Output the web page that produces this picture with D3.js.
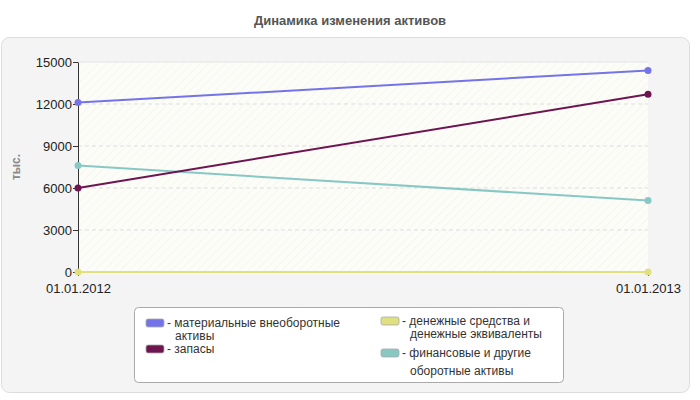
<!DOCTYPE html>
<html lang="ru">
<head>
<meta charset="UTF-8">
<script src="https://d3js.org/d3.v7.min.js"></script>
<style>
  html, body { margin: 0; padding: 0; background: #fff; }
  svg { font-family: "Liberation Sans", Arial, sans-serif; }
</style>
</head>
<body>
<svg width="700" height="400"></svg>
<script>
const dates = ["01.01.2012", "01.01.2013"];
const seriesNames = ["материальные внеоборотные активы", "запасы", "денежные средства и денежные эквиваленты", "финансовые и другие оборотные активы"];
const seriesColors = ["#7474e8", "#6e1550", "#e0e080", "#88c8c4"];
const seriesValues = [
  [12100, 14400],
  [6000, 12700],
  [0, 0],
  [7600, 5100]
];
const yTicks = [0, 3000, 6000, 9000, 12000, 15000];

const svg = d3.select("svg");
const defs = svg.append("defs");
const pat = defs.append("pattern").attr("id", "hatch").attr("width", 6).attr("height", 6)
  .attr("patternUnits", "userSpaceOnUse").attr("patternTransform", "rotate(-45)");
pat.append("rect").attr("width", 6).attr("height", 6).attr("fill", "#fdfdf8");
pat.append("line").attr("x1", 0).attr("y1", 0).attr("x2", 6).attr("y2", 0).attr("stroke", "#eeeeee").attr("stroke-width", 1);

svg.append("text").attr("x", 350).attr("y", 25).attr("text-anchor", "middle")
  .attr("font-size", 13).attr("font-weight", "bold").attr("fill", "#555").text("Динамика изменения активов");

svg.append("rect").attr("x", 1.5).attr("y", 37.5).attr("width", 688).attr("height", 355).attr("rx", 8)
  .attr("fill", "#f4f4f4").attr("stroke", "#dddddd");

const x = d3.scalePoint().domain(dates).range([78, 648]);
const y = d3.scaleLinear().domain([0, 15000]).range([272, 62]);

svg.append("rect").attr("x", 78).attr("y", 62).attr("width", 570).attr("height", 210).attr("fill", "url(#hatch)");

svg.append("g").selectAll("line").data(yTicks.slice(1, -1)).join("line")
  .attr("x1", 78).attr("x2", 648).attr("y1", d => y(d)).attr("y2", d => y(d))
  .attr("stroke", "#dddddd").attr("stroke-dasharray", "4,3");
svg.append("line").attr("x1", 78).attr("x2", 648).attr("y1", y(15000)).attr("y2", y(15000)).attr("stroke", "#e4e4e4");

const yAxis = svg.append("g").attr("transform", "translate(78,0)")
  .call(d3.axisLeft(y).tickValues(yTicks).tickSize(5).tickSizeOuter(0).tickFormat(d3.format("d")));
const xAxis = svg.append("g").attr("transform", "translate(0,272)")
  .call(d3.axisBottom(x).tickSize(4).tickSizeOuter(0));
[yAxis, xAxis].forEach(a => {
  a.select(".domain").attr("stroke", "#333");
  a.selectAll(".tick line").attr("stroke", "#333");
  a.selectAll("text").attr("font-size", 13).attr("fill", "#222").attr("font-family", "Liberation Sans, Arial, sans-serif");
});
yAxis.selectAll("text").attr("dx", "2");
xAxis.selectAll("text").attr("dy", "1.1em");
xAxis.selectAll(".tick text").attr("text-anchor", (d, i) => i === 0 ? "middle" : "middle");

svg.append("text").attr("transform", "translate(20,167) rotate(-90)").attr("text-anchor", "middle")
  .attr("font-size", 12).attr("font-weight", "bold").attr("fill", "#888").text("тыс.");

const line = d3.line().x((d, i) => x(dates[i])).y(d => y(d));
const order = [0, 3, 1, 2];
order.forEach(s => {
  svg.append("path").attr("d", line(seriesValues[s])).attr("fill", "none")
    .attr("stroke", seriesColors[s]).attr("stroke-width", 2);
  svg.append("g").selectAll("circle").data(seriesValues[s]).join("circle")
    .attr("cx", (d, i) => x(dates[i])).attr("cy", d => y(d)).attr("r", 3.5).attr("fill", seriesColors[s]);
});

// legend
const lg = svg.append("g");
lg.append("rect").attr("x", 134.5).attr("y", 307.5).attr("width", 429).attr("height", 75).attr("rx", 4)
  .attr("fill", "#fff").attr("stroke", "#aaa");
const legendItems = [
  { s: 0, x: 146, y: 323, lines: ["материальные внеоборотные", "активы"] },
  { s: 1, x: 146, y: 349, lines: ["запасы"] },
  { s: 2, x: 381, y: 321, lines: ["денежные средства и", "денежные эквиваленты"] },
  { s: 3, x: 381, y: 353, lines: ["финансовые и другие", "оборотные активы"] }
];
legendItems.forEach(it => {
  lg.append("rect").attr("x", it.x).attr("y", it.y - 4).attr("width", 18).attr("height", 8).attr("rx", 2)
    .attr("fill", seriesColors[it.s]).attr("stroke", "#aaa").attr("stroke-width", 0.8);
  const t = lg.append("text").attr("x", it.x + 21).attr("y", it.y + 4).attr("font-size", 12).attr("fill", "#333");
  it.lines.forEach((l, i) => {
    t.append("tspan").attr("x", i ? it.x + 29 : it.x + 21).attr("dy", i ? (it.s === 3 ? 18 : 13) : 0)
      .text(i ? l : "- " + l);
  });
});
</script>
</body>
</html>
